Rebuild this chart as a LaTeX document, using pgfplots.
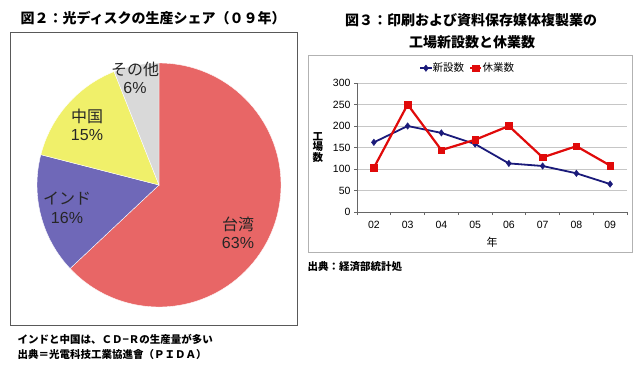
\documentclass[border=0pt]{standalone}
\usepackage{fontspec}
\setmainfont{Noto Sans CJK JP}
\newfontfamily\arial{Liberation Sans}
\usepackage{pgfplots}
\pgfplotsset{compat=1.18}
\definecolor{pieRed}{HTML}{E86666}
\definecolor{pieBlue}{HTML}{6F68B8}
\definecolor{pieYellow}{HTML}{F0F06A}
\definecolor{pieGray}{HTML}{D9D9D9}
\definecolor{navy}{HTML}{1A1A7A}
\definecolor{lred}{HTML}{E00A0A}
\begin{document}
\begin{tikzpicture}[x=1pt,y=1pt]
\useasboundingbox (0,0) rectangle (640,368);
% left title and frame
\node[anchor=west,font=\fontsize{14}{16}\selectfont\bfseries] at (17,350) {図２：光ディスクの生産シェア（０９年）};
\draw[gray!70!black,line width=0.8pt] (10,43) rectangle (297,336);
% pie
\def\cx{159}\def\cy{183}\def\r{122}
\foreach \val/\col [remember=\endang as \startang (initially 90)] in {63/pieRed,16/pieBlue,15/pieYellow,6/pieGray} {
  \pgfmathsetmacro\endang{\startang-3.6*\val}
  \fill[\col,draw=white,line width=0.4pt] (\cx,\cy) -- ++(\startang:\r pt) arc[start angle=\startang,end angle=\endang,radius=\r pt] -- cycle;
}
\begin{scope}[every node/.style={align=center,font=\fontsize{16}{18.5}\selectfont,text=black!85}]
\node at (238,135) {台湾\\{\arial 63\%}};
\node at (67,160) {インド\\{\arial 16\%}};
\node at (87,243) {中国\\{\arial 15\%}};
\node at (135,290) {その他\\{\arial 6\%}};
\end{scope}
\node[anchor=west,font=\fontsize{10.5}{12}\selectfont\bfseries] at (14,29) {インドと中国は、ＣＤ−Ｒの生産量が多い};
\node[anchor=west,font=\fontsize{10.5}{12}\selectfont\bfseries] at (14,13) {出典＝光電科技工業協進會（ＰＩＤＡ）};
% right titles and frame
\node[font=\fontsize{14}{16}\selectfont\bfseries] at (471,348) {図３：印刷および資料保存媒体複製業の};
\node[font=\fontsize{14}{16}\selectfont\bfseries] at (472,326) {工場新設数と休業数};
\draw[gray!60,line width=0.8pt] (308,116) rectangle (632,313);
\node[anchor=west,font=\fontsize{10.5}{12}\selectfont\bfseries] at (304,101) {出典：経済部統計処};
\begin{axis}[
  at={(357pt,156pt)}, anchor=south west,
  width=270pt, height=129pt, scale only axis,
  xmin=-0.5, xmax=7.5, ymin=0, ymax=300,
  axis x line*=bottom, axis y line*=left,
  axis line style={gray!80!black, line width=0.6pt},
  xtick={0,...,7}, xticklabels={02,03,04,05,06,07,08,09},
  minor xtick={-0.5,0.5,...,7.5},
  major x tick style={draw=none},
  minor tick length=3pt, major tick length=3pt,
  tick align=outside,
  tick style={gray!80!black, line width=0.6pt},
  ytick={0,50,...,300},
  ymajorgrids, grid style={gray!45, line width=0.6pt},
  /pgf/number format/assume math mode=true,
  ticklabel style={font=\arial\fontsize{10.5}{12}\selectfont},
  xticklabel style={yshift=-3pt},
  xlabel={年}, xlabel style={at={(axis description cs:0.5,-0.235)},anchor=center,font=\fontsize{11}{12}\selectfont},
  ylabel={\shortstack{工\\[-2pt]場\\[-2pt]数}},
  ylabel style={rotate=-90,at={(axis description cs:-0.145,0.5)},anchor=center,font=\fontsize{10.5}{11}\selectfont\bfseries},
  legend style={at={(axis description cs:0.41,1.115)},anchor=center,draw=none,fill=none,
    legend columns=2, font=\fontsize{10.5}{12}\selectfont,
    /tikz/every even column/.append style={column sep=3pt},
    /tikz/every odd column/.append style={column sep=-2pt}},
  legend image code/.code={\draw[mark repeat=2,mark phase=2] plot coordinates {(0cm,0cm) (0.2cm,0cm) (0.4cm,0cm)};},
  legend cell align=left,
]
\addplot[navy, line width=1.8pt, mark=diamond*, mark size=3.2pt, mark options={solid,line width=0.5pt}]
  coordinates {(0,162) (1,200) (2,184) (3,158) (4,113) (5,107) (6,90) (7,65)};
\addlegendentry{新設数}
\addplot[lred, line width=2.2pt, mark=square*, mark size=3.3pt, mark options={solid,line width=0.5pt}]
  coordinates {(0,103) (1,250) (2,144) (3,168) (4,200) (5,127) (6,153) (7,108)};
\addlegendentry{休業数}
\end{axis}
\end{tikzpicture}
\end{document}
